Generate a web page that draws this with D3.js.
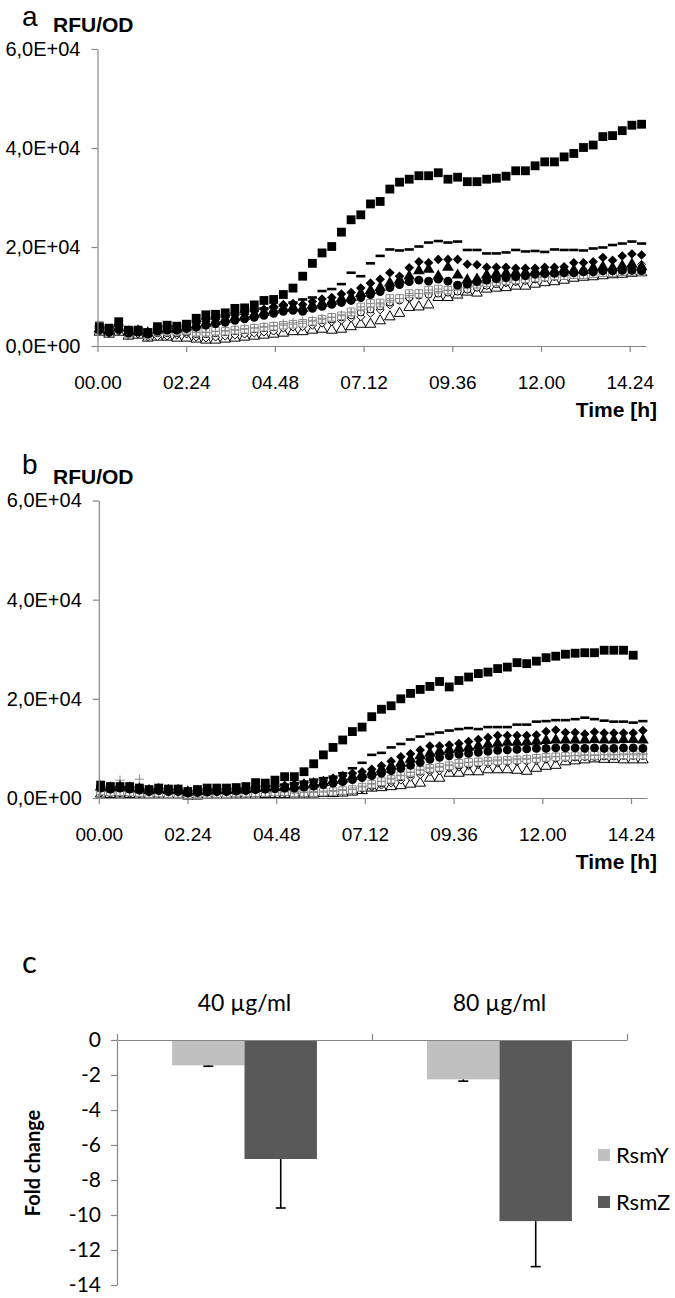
<!DOCTYPE html>
<html>
<head>
<meta charset="utf-8">
<script src="https://cdn.jsdelivr.net/npm/d3@7"></script>
<style>
  body { margin: 0; background: #fff; }
  svg { display: block; }
</style>
</head>
<body>
<svg id="chart"></svg>
<script>
// sampling times of the plate reader (minutes)
const timeStart = 3
const timeStep = 15.72
const sampleMin = d3.range(57).map(i => timeStart + i * timeStep)

// x ticks every 2h24 (minutes)
const timeTicks = [0, 144, 288, 432, 576, 720, 864]
const rfuTicks = [0, 2e4, 4e4, 6e4]

// panel a, RFU/OD in units of 1E+04
const sqA = [0.39,0.36,0.49,0.32,0.32,0.27,0.39,0.42,0.40,0.44,0.56,0.63,0.64,0.67,0.76,0.77,0.83,0.92,0.94,1.04,1.17,1.41,1.67,1.88,2.01,2.30,2.55,2.65,2.87,2.92,3.17,3.31,3.37,3.44,3.44,3.50,3.37,3.41,3.32,3.32,3.37,3.39,3.43,3.54,3.54,3.64,3.72,3.72,3.82,3.89,4.01,4.06,4.23,4.25,4.35,4.46,4.48]
const dashA = [0.40,0.38,0.42,0.35,0.36,0.33,0.38,0.40,0.40,0.43,0.50,0.55,0.58,0.62,0.66,0.69,0.73,0.76,0.78,0.82,0.88,0.94,0.98,1.11,1.15,1.25,1.48,1.41,1.67,1.82,1.95,1.93,1.95,2.01,2.09,2.12,2.09,2.11,1.94,1.94,1.87,1.87,1.89,1.94,1.91,1.92,1.90,1.95,1.94,1.94,1.93,1.97,1.99,2.04,2.07,2.11,2.07]
const diaA = [0.36,0.34,0.40,0.30,0.32,0.28,0.34,0.36,0.36,0.40,0.46,0.50,0.54,0.58,0.62,0.64,0.70,0.74,0.80,0.84,0.86,0.84,0.90,0.95,0.98,1.05,1.08,1.17,1.27,1.35,1.48,1.41,1.58,1.70,1.68,1.75,1.75,1.75,1.65,1.64,1.59,1.59,1.59,1.57,1.57,1.57,1.59,1.59,1.60,1.68,1.68,1.70,1.79,1.73,1.82,1.86,1.84]
const triA = [0.34,0.30,0.36,0.28,0.30,0.26,0.32,0.34,0.34,0.38,0.42,0.46,0.50,0.54,0.57,0.60,0.64,0.68,0.72,0.76,0.78,0.76,0.82,0.86,0.90,0.95,0.98,1.06,1.12,1.18,1.27,1.33,1.41,1.52,1.55,1.41,1.59,1.43,1.33,1.35,1.43,1.46,1.47,1.48,1.48,1.51,1.52,1.51,1.55,1.53,1.53,1.58,1.60,1.58,1.62,1.65,1.60]
const cirA = [0.32,0.28,0.34,0.26,0.28,0.24,0.30,0.32,0.32,0.35,0.38,0.42,0.45,0.48,0.52,0.55,0.58,0.62,0.66,0.70,0.72,0.70,0.76,0.80,0.84,0.88,0.92,0.98,1.04,1.10,1.18,1.24,1.30,1.33,1.31,1.35,1.31,1.23,1.25,1.30,1.33,1.36,1.38,1.40,1.42,1.45,1.46,1.47,1.48,1.48,1.50,1.50,1.52,1.52,1.53,1.53,1.52]
const osqA = [0.42,0.30,0.36,0.24,0.30,0.22,0.30,0.30,0.30,0.32,0.28,0.28,0.30,0.30,0.32,0.34,0.36,0.38,0.40,0.42,0.44,0.46,0.50,0.54,0.58,0.61,0.69,0.79,0.86,0.87,0.96,0.96,1.06,1.06,1.13,1.15,1.13,1.21,1.25,1.25,1.28,1.30,1.32,1.34,1.36,1.38,1.40,1.42,1.42,1.44,1.44,1.46,1.48,1.48,1.50,1.50,1.50]
const ocirA = [0.34,0.28,0.32,0.24,0.28,0.22,0.26,0.26,0.26,0.28,0.24,0.24,0.26,0.28,0.30,0.32,0.34,0.36,0.38,0.42,0.44,0.46,0.48,0.52,0.54,0.58,0.62,0.68,0.74,0.80,0.88,0.92,0.98,1.02,1.04,1.06,1.08,1.10,1.14,1.18,1.22,1.25,1.28,1.30,1.32,1.35,1.38,1.40,1.42,1.44,1.45,1.46,1.48,1.50,1.50,1.52,1.52]
const odiaA = [0.30,0.26,0.30,0.22,0.24,0.18,0.19,0.20,0.22,0.24,0.18,0.16,0.18,0.20,0.22,0.24,0.26,0.28,0.30,0.36,0.38,0.39,0.42,0.46,0.49,0.52,0.56,0.59,0.66,0.73,0.83,0.93,0.96,1.03,1.06,1.09,1.12,1.15,1.18,1.20,1.23,1.26,1.28,1.30,1.33,1.35,1.38,1.40,1.42,1.45,1.48,1.50,1.53,1.56,1.60,1.62,1.65]
const otriA = [0.28,0.24,0.28,0.20,0.22,0.16,0.18,0.18,0.16,0.16,0.14,0.12,0.12,0.14,0.16,0.18,0.20,0.22,0.24,0.26,0.29,0.29,0.32,0.34,0.32,0.34,0.39,0.44,0.44,0.51,0.59,0.66,0.78,0.79,0.83,0.98,0.98,1.03,1.09,1.07,1.15,1.17,1.18,1.21,1.21,1.25,1.28,1.30,1.33,1.37,1.39,1.40,1.42,1.44,1.45,1.47,1.48]
const plusA = [0.38,0.30,0.35,0.27,0.30,0.24,0.28,0.28,0.28,0.30,0.27,0.27,0.29,0.31,0.33,0.35,0.37,0.39,0.41,0.45,0.47,0.50,0.52,0.56,0.58,0.63,0.67,0.73,0.79,0.85,0.92,0.96,1.02,1.06,1.08,1.10,1.12,1.14,1.18,1.22,1.26,1.28,1.31,1.33,1.35,1.38,1.41,1.43,1.45,1.47,1.48,1.49,1.51,1.52,1.53,1.54,1.55]

// panel b, RFU/OD in units of 1E+04
const sqB = [0.26,0.23,0.23,0.23,0.20,0.17,0.20,0.18,0.18,0.13,0.17,0.20,0.20,0.20,0.21,0.23,0.31,0.30,0.36,0.43,0.43,0.53,0.69,0.87,1.02,1.17,1.34,1.43,1.64,1.79,1.86,2.00,2.11,2.19,2.25,2.35,2.24,2.37,2.44,2.51,2.54,2.61,2.64,2.73,2.71,2.76,2.83,2.86,2.90,2.92,2.93,2.93,2.98,2.98,2.98,2.88]
const dashB = [0.22,0.21,0.22,0.22,0.20,0.17,0.19,0.17,0.17,0.13,0.15,0.17,0.18,0.18,0.19,0.20,0.22,0.24,0.25,0.27,0.30,0.33,0.37,0.40,0.43,0.50,0.60,0.71,0.87,0.91,1.02,1.09,1.18,1.24,1.29,1.32,1.36,1.39,1.41,1.39,1.43,1.43,1.43,1.48,1.48,1.54,1.55,1.57,1.57,1.59,1.62,1.59,1.56,1.54,1.54,1.52,1.55]
const diaB = [0.24,0.22,0.24,0.22,0.20,0.17,0.19,0.17,0.17,0.14,0.15,0.16,0.17,0.17,0.18,0.19,0.21,0.22,0.23,0.25,0.27,0.29,0.32,0.35,0.40,0.45,0.50,0.53,0.58,0.65,0.74,0.83,0.89,0.97,1.05,1.05,1.07,1.10,1.14,1.18,1.22,1.26,1.26,1.26,1.26,1.27,1.34,1.37,1.32,1.32,1.29,1.33,1.31,1.31,1.31,1.31,1.36]
const triB = [0.22,0.20,0.22,0.20,0.18,0.15,0.17,0.15,0.15,0.12,0.13,0.14,0.15,0.15,0.16,0.17,0.19,0.20,0.21,0.22,0.24,0.26,0.28,0.31,0.35,0.38,0.43,0.47,0.52,0.58,0.64,0.70,0.78,0.85,0.90,0.94,0.97,1.00,1.02,1.05,1.08,1.10,1.12,1.12,1.13,1.14,1.16,1.17,1.17,1.17,1.17,1.18,1.17,1.17,1.18,1.18,1.17]
const cirB = [0.20,0.18,0.20,0.18,0.16,0.13,0.15,0.13,0.13,0.10,0.11,0.12,0.13,0.13,0.14,0.15,0.17,0.18,0.19,0.20,0.20,0.22,0.24,0.27,0.30,0.33,0.37,0.41,0.45,0.50,0.55,0.60,0.66,0.72,0.78,0.82,0.85,0.88,0.90,0.92,0.94,0.96,0.97,0.98,0.99,1.00,1.00,1.01,1.01,1.01,1.00,1.01,1.00,1.00,1.01,1.01,1.00]
const osqB = [0.14,0.12,0.13,0.12,0.11,0.09,0.10,0.09,0.09,0.07,0.08,0.08,0.09,0.09,0.10,0.10,0.11,0.11,0.12,0.13,0.10,0.11,0.11,0.12,0.13,0.15,0.17,0.22,0.28,0.33,0.38,0.45,0.52,0.56,0.60,0.62,0.65,0.70,0.72,0.73,0.74,0.75,0.76,0.77,0.78,0.80,0.82,0.83,0.84,0.85,0.86,0.86,0.87,0.87,0.87,0.87,0.87]
const ocirB = [0.12,0.10,0.11,0.10,0.09,0.08,0.09,0.08,0.08,0.06,0.07,0.07,0.08,0.08,0.09,0.09,0.10,0.10,0.11,0.11,0.10,0.10,0.11,0.12,0.13,0.14,0.16,0.20,0.25,0.30,0.35,0.42,0.48,0.53,0.57,0.60,0.63,0.66,0.68,0.70,0.72,0.73,0.74,0.75,0.76,0.78,0.79,0.80,0.81,0.82,0.83,0.83,0.84,0.84,0.85,0.85,0.85]
const odiaB = [0.10,0.09,0.10,0.09,0.08,0.07,0.08,0.07,0.07,0.05,0.06,0.06,0.07,0.07,0.08,0.08,0.09,0.09,0.10,0.10,0.09,0.09,0.10,0.11,0.12,0.13,0.15,0.18,0.22,0.26,0.30,0.36,0.42,0.47,0.53,0.55,0.60,0.62,0.65,0.67,0.69,0.70,0.72,0.73,0.74,0.75,0.78,0.80,0.81,0.83,0.84,0.85,0.86,0.87,0.88,0.88,0.90]
const otriB = [0.08,0.07,0.08,0.07,0.06,0.05,0.06,0.05,0.05,0.04,0.04,0.05,0.05,0.05,0.06,0.06,0.06,0.07,0.07,0.07,0.08,0.08,0.08,0.09,0.09,0.10,0.12,0.15,0.20,0.21,0.23,0.25,0.28,0.30,0.40,0.40,0.50,0.50,0.53,0.53,0.57,0.57,0.57,0.56,0.54,0.60,0.64,0.66,0.73,0.75,0.77,0.79,0.78,0.78,0.77,0.77,0.77]
const plusB = [0.14,0.12,0.36,0.12,0.38,0.09,0.11,0.09,0.09,0.07,0.08,0.08,0.09,0.09,0.10,0.10,0.11,0.11,0.12,0.12,0.12,0.12,0.13,0.14,0.15,0.17,0.20,0.24,0.29,0.34,0.40,0.46,0.52,0.57,0.61,0.64,0.67,0.70,0.72,0.74,0.76,0.77,0.78,0.79,0.80,0.82,0.83,0.84,0.85,0.86,0.87,0.87,0.88,0.88,0.89,0.89,0.89]

// panel c, fold change
const concentrations = ["40 µg/ml", "80 µg/ml"]
const genes = ["RsmY", "RsmZ"]
const rsmY = [-1.45, -2.25]
const rsmZ = [-6.8, -10.35]
const rsmYErr = [0.05, 0.1]
const rsmZErr = [2.8, 2.6]
const foldTicks = [0, -2, -4, -6, -8, -10, -12, -14]


const width = 675
const height = 1298
const axisColor = "#868686"
const arial = "'Liberation Sans', Arial, sans-serif"
const calibri = "Lato, 'Open Sans', sans-serif"

const svg = d3.select("#chart")
  .attr("width", width)
  .attr("height", height)
  .style("background", "#fff")

// marker shapes
const dashShape = { draw(ctx) { ctx.rect(-4.6, -1.3, 9.2, 2.6) } }
const boxCross = { draw(ctx) {
  ctx.rect(-3.8, -3.8, 7.6, 7.6)
  ctx.moveTo(0, -3.8); ctx.lineTo(0, 3.8)
  ctx.moveTo(-3.8, 0); ctx.lineTo(3.8, 0)
} }
const plusShape = { draw(ctx) {
  ctx.moveTo(0, -4.5); ctx.lineTo(0, 4.5)
  ctx.moveTo(-4.5, 0); ctx.lineTo(4.5, 0)
} }

// drawing order: first drawn ends up underneath
const markerStyles = [
  { key: "otri", type: d3.symbolTriangle, size: 48, fill: "#fff", stroke: "#000" },
  { key: "odia", type: d3.symbolDiamond2, size: 40, fill: "#fff", stroke: "#000" },
  { key: "ocir", type: d3.symbolCircle, size: 40, fill: "#fff", stroke: "#000" },
  { key: "osq", type: boxCross, size: 1, fill: "#fff", stroke: "#8a8a8a" },
  { key: "plus", type: plusShape, size: 1, fill: "none", stroke: "#8a8a8a" },
  { key: "cir", type: d3.symbolCircle, size: 62, fill: "#000", stroke: "none" },
  { key: "tri", type: d3.symbolTriangle, size: 60, fill: "#000", stroke: "none" },
  { key: "dia", type: d3.symbolDiamond2, size: 58, fill: "#000", stroke: "none" },
  { key: "dash", type: dashShape, size: 1, fill: "#000", stroke: "none" },
  { key: "sq", type: d3.symbolSquare, size: 78, fill: "#000", stroke: "none" }
]

function fmtRFU(d) {
  if (d === 0) return "0,0E+00"
  return (d / 1e4).toFixed(1).replace(".", ",") + "E+04"
}
function fmtTime(m) {
  const h = Math.floor(m / 60), mm = m % 60
  return String(h).padStart(2, "0") + "." + String(mm).padStart(2, "0")
}

function timePanel(cfg) {
  const x = d3.scaleLinear()
    .domain([0, 890])
    .range([cfg.left, cfg.left + 890 / 144 * 88.7])
  const y = d3.scaleLinear()
    .domain([0, 6e4])
    .range([cfg.bottom, cfg.top])

  const g = svg.append("g")

  // data
  markerStyles.forEach(st => {
    const vals = cfg.series[st.key]
    g.append("g")
      .selectAll("path")
      .data(vals.map((v, i) => ({ t: sampleMin[i], v: v * 1e4 })))
      .join("path")
      .attr("transform", d => `translate(${x(d.t)},${y(d.v)})`)
      .attr("d", d3.symbol().type(st.type).size(st.size))
      .attr("fill", st.fill)
      .attr("stroke", st.stroke)
      .attr("stroke-width", 1)
  })

  const yAxis = g.append("g")
    .attr("transform", `translate(${cfg.left},0)`)
    .call(d3.axisLeft(y).tickValues(rfuTicks).tickFormat(fmtRFU).tickSizeInner(6).tickSizeOuter(0).tickPadding(11))
  const xAxis = g.append("g")
    .attr("transform", `translate(0,${cfg.bottom})`)
    .call(d3.axisBottom(x).tickValues(timeTicks).tickFormat(fmtTime).tickSizeInner(6).tickSizeOuter(0).tickPadding(24))

  ;[yAxis, xAxis].forEach(a => {
    a.select(".domain").attr("stroke", axisColor).attr("stroke-width", 1.2)
    a.selectAll(".tick line").attr("stroke", axisColor).attr("stroke-width", 1.2)
    a.selectAll("text")
      .attr("fill", "#000")
      .style("font-family", arial)
      .style("font-size", "19px")
  })
  yAxis.selectAll("text").style("font-size", "20px")

  g.append("text")
    .attr("x", 22).attr("y", cfg.letterY)
    .style("font-family", arial).style("font-size", "28px")
    .text(cfg.letter)
  g.append("text")
    .attr("x", 53).attr("y", cfg.top - 17)
    .style("font-family", arial).style("font-size", "21px").style("font-weight", "bold")
    .text("RFU/OD")
  g.append("text")
    .attr("x", 657).attr("y", cfg.bottom + 71)
    .attr("text-anchor", "end")
    .style("font-family", arial).style("font-size", "21px").style("font-weight", "bold")
    .text("Time [h]")
}

timePanel({
  letter: "a", letterY: 25.5, left: 97.5, top: 49, bottom: 346,
  series: { sq: sqA, dash: dashA, dia: diaA, tri: triA, cir: cirA, osq: osqA, ocir: ocirA, odia: odiaA, otri: otriA, plus: plusA }
})
timePanel({
  letter: "b", letterY: 474, left: 98.8, top: 500.5, bottom: 798,
  series: { sq: sqB, dash: dashB, dia: diaB, tri: triB, cir: cirB, osq: osqB, ocir: ocirB, odia: odiaB, otri: otriB, plus: plusB }
})


// ---- panel c ----
const cLeft = 117, cRight = 627, cTop = 1040, cBottom = 1285
const geneColor = { RsmY: "#c0c0c0", RsmZ: "#595959" }

const x0 = d3.scaleBand().domain(concentrations).range([cLeft, cRight]).padding(0)
const x1 = d3.scaleBand().domain(genes).range([0, x0.bandwidth()]).paddingInner(0).paddingOuter(0.76)
const yC = d3.scaleLinear().domain([0, -14]).range([cTop, cBottom])

const barData = []
concentrations.forEach((c, i) => {
  barData.push({ conc: c, gene: "RsmY", v: rsmY[i], err: rsmYErr[i] })
  barData.push({ conc: c, gene: "RsmZ", v: rsmZ[i], err: rsmZErr[i] })
})

const gc = svg.append("g")

gc.append("g")
  .selectAll("rect")
  .data(barData)
  .join("rect")
  .attr("x", d => x0(d.conc) + x1(d.gene))
  .attr("y", yC(0))
  .attr("width", x1.bandwidth())
  .attr("height", d => yC(d.v) - yC(0))
  .attr("fill", d => geneColor[d.gene])

// error bars (minus direction only)
const eb = gc.append("g").attr("stroke", "#000").attr("stroke-width", 1.6)
eb.selectAll("line.whisker")
  .data(barData)
  .join("line")
  .attr("class", "whisker")
  .attr("x1", d => x0(d.conc) + x1(d.gene) + x1.bandwidth() / 2)
  .attr("x2", d => x0(d.conc) + x1(d.gene) + x1.bandwidth() / 2)
  .attr("y1", d => yC(d.v))
  .attr("y2", d => yC(d.v - d.err))
eb.selectAll("line.cap")
  .data(barData)
  .join("line")
  .attr("class", "cap")
  .attr("x1", d => x0(d.conc) + x1(d.gene) + x1.bandwidth() / 2 - 5)
  .attr("x2", d => x0(d.conc) + x1(d.gene) + x1.bandwidth() / 2 + 5)
  .attr("y1", d => yC(d.v - d.err))
  .attr("y2", d => yC(d.v - d.err))

// value axis
const yAxisC = gc.append("g")
  .attr("transform", `translate(${cLeft},0)`)
  .call(d3.axisLeft(yC).tickValues(foldTicks).tickFormat(d => String(d)).tickSizeInner(6).tickSizeOuter(0).tickPadding(10))

// category axis along zero, ticks pointing up
const catEdges = d3.scaleLinear().domain([0, concentrations.length]).range([cLeft, cRight])
const catAxis = gc.append("g")
  .attr("transform", `translate(0,${cTop})`)
  .call(d3.axisTop(catEdges).ticks(concentrations.length).tickFormat("").tickSizeInner(6).tickSizeOuter(0))

;[yAxisC, catAxis].forEach(a => {
  a.select(".domain").attr("stroke", axisColor).attr("stroke-width", 1.2)
  a.selectAll(".tick line").attr("stroke", axisColor).attr("stroke-width", 1.2)
  a.selectAll("text").attr("fill", "#000").style("font-family", calibri).style("font-size", "21px")
})

gc.append("g")
  .selectAll("text")
  .data(concentrations)
  .join("text")
  .attr("x", d => x0(d) + x0.bandwidth() / 2)
  .attr("y", 1011)
  .attr("text-anchor", "middle")
  .style("font-family", calibri).style("font-size", "23px")
  .text(d => d)

gc.append("text")
  .attr("x", 22).attr("y", 973)
  .style("font-family", calibri).style("font-size", "31px")
  .text("c")

gc.append("text")
  .attr("transform", "translate(40,1163) rotate(-90)")
  .attr("text-anchor", "middle")
  .style("font-family", calibri).style("font-size", "20px").style("font-weight", "bold")
  .text("Fold change")

const legend = gc.append("g")
  .selectAll("g")
  .data(genes)
  .join("g")
  .attr("transform", (d, i) => `translate(598,${1155 + i * 47})`)
legend.append("rect")
  .attr("x", 0).attr("y", -6).attr("width", 12).attr("height", 12)
  .attr("fill", d => geneColor[d])
legend.append("text")
  .attr("x", 18).attr("y", 8)
  .style("font-family", calibri).style("font-size", "22px")
  .text(d => d)
</script>
</body>
</html>
